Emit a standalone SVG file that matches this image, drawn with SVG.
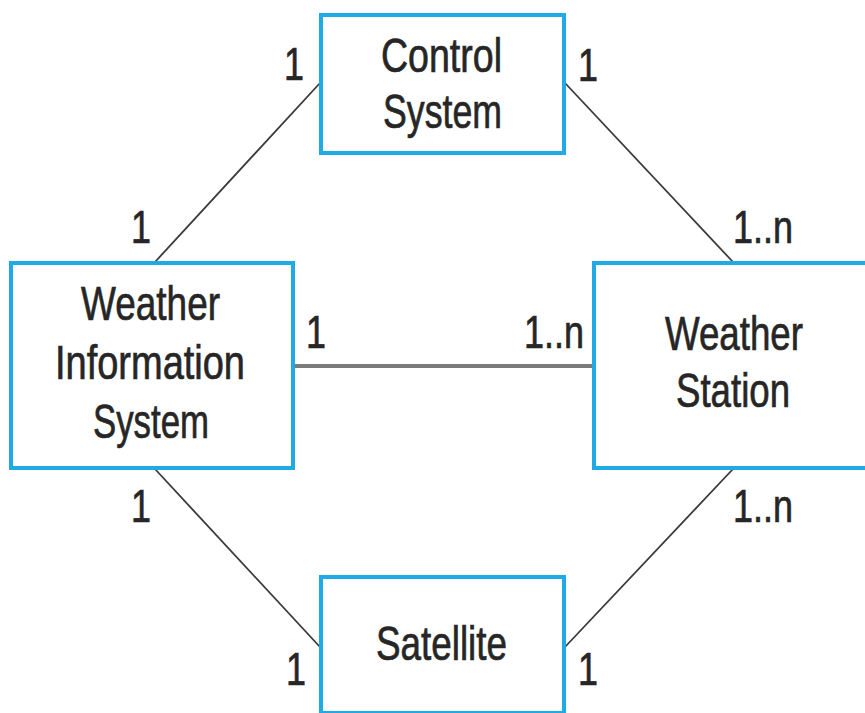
<svg xmlns="http://www.w3.org/2000/svg" width="865" height="713" viewBox="0 0 865 713">
  <style>
    .box { fill: #ffffff; stroke: #1faae6; stroke-width: 4; }
    .lbl { font-family: "Liberation Sans", Arial, sans-serif; font-size: 48px; fill: #262626; stroke: #262626; stroke-width: 0.7; }
    .mul { font-family: "Liberation Sans", Arial, sans-serif; font-size: 46px; fill: #262626; stroke: #262626; stroke-width: 0.7; }
    .assoc { stroke: #3a3a3a; stroke-width: 1.8; fill: none; }
    .assoc-thick { stroke: #7a7a7a; stroke-width: 4; fill: none; }
  </style>
  <rect width="865" height="713" fill="#ffffff"/>
  <g id="connectors">
    <line class="assoc" x1="320" y1="83" x2="155" y2="262"/>
    <line class="assoc" x1="565" y1="83" x2="733" y2="262"/>
    <line class="assoc" x1="155" y1="469" x2="320" y2="647"/>
    <line class="assoc" x1="733" y1="469" x2="565" y2="647"/>
    <line class="assoc-thick" x1="294" y1="366" x2="592" y2="366"/>
  </g>
  <g id="control-system">
    <rect class="box" x="321" y="15" width="243" height="138"/>
    <text class="lbl" x="381" y="72" textLength="121" lengthAdjust="spacingAndGlyphs">Control</text>
    <text class="lbl" x="383" y="128" textLength="119" lengthAdjust="spacingAndGlyphs">System</text>
  </g>
  <g id="weather-information-system">
    <rect class="box" x="11" y="263" width="282" height="205"/>
    <text class="lbl" x="81" y="320" textLength="139" lengthAdjust="spacingAndGlyphs">Weather</text>
    <text class="lbl" x="55" y="379" textLength="190" lengthAdjust="spacingAndGlyphs">Information</text>
    <text class="lbl" x="93" y="438" textLength="116" lengthAdjust="spacingAndGlyphs">System</text>
  </g>
  <g id="weather-station">
    <rect class="box" x="594" y="263" width="290" height="205"/>
    <text class="lbl" x="665" y="350" textLength="138" lengthAdjust="spacingAndGlyphs">Weather</text>
    <text class="lbl" x="676" y="407" textLength="114" lengthAdjust="spacingAndGlyphs">Station</text>
  </g>
  <g id="satellite">
    <rect class="box" x="321" y="577" width="243" height="136"/>
    <text class="lbl" x="376" y="660" textLength="131" lengthAdjust="spacingAndGlyphs">Satellite</text>
  </g>
  <g id="multiplicities">
    <text class="mul" x="284" y="80" textLength="20" lengthAdjust="spacingAndGlyphs">1</text>
    <text class="mul" x="578" y="81" textLength="20" lengthAdjust="spacingAndGlyphs">1</text>
    <text class="mul" x="131" y="243" textLength="20" lengthAdjust="spacingAndGlyphs">1</text>
    <text class="mul" x="733" y="243" textLength="60" lengthAdjust="spacingAndGlyphs">1..n</text>
    <text class="mul" x="306" y="348" textLength="20" lengthAdjust="spacingAndGlyphs">1</text>
    <text class="mul" x="524" y="348" textLength="60" lengthAdjust="spacingAndGlyphs">1..n</text>
    <text class="mul" x="131" y="522" textLength="20" lengthAdjust="spacingAndGlyphs">1</text>
    <text class="mul" x="733" y="522" textLength="60" lengthAdjust="spacingAndGlyphs">1..n</text>
    <text class="mul" x="286" y="685" textLength="20" lengthAdjust="spacingAndGlyphs">1</text>
    <text class="mul" x="578" y="685" textLength="20" lengthAdjust="spacingAndGlyphs">1</text>
  </g>
</svg>
